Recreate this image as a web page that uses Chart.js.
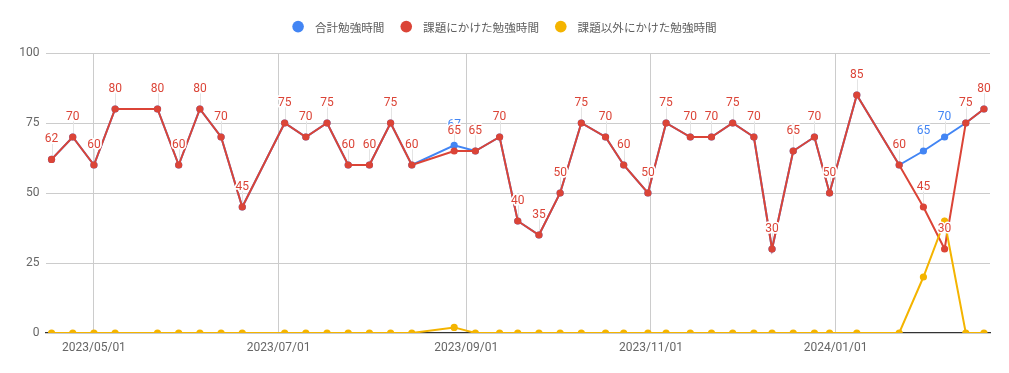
<!DOCTYPE html>
<html><head><meta charset="utf-8">
<script src="https://cdn.jsdelivr.net/npm/chart.js@4.4.0/dist/chart.umd.min.js"></script>
<style>html,body{margin:0;padding:0;background:#fff}#wrap{width:1009px;height:373px}</style>
</head><body><div id="wrap"><canvas id="c" width="1009" height="373"></canvas></div>
<script>
const seriesNames = ['合計勉強時間', '課題にかけた勉強時間', '課題以外にかけた勉強時間'];
const seriesColors = ['#4285f4', '#db4437', '#f4b400'];
const dates = ['2023-04-17','2023-04-24','2023-05-01','2023-05-08','2023-05-22','2023-05-29','2023-06-05','2023-06-12','2023-06-19',
  '2023-07-03','2023-07-10','2023-07-17','2023-07-24','2023-07-31','2023-08-07','2023-08-14','2023-08-28','2023-09-04',
  '2023-09-12','2023-09-18','2023-09-25','2023-10-02','2023-10-09','2023-10-17','2023-10-23','2023-10-31','2023-11-06',
  '2023-11-14','2023-11-21','2023-11-28','2023-12-05','2023-12-11','2023-12-18','2023-12-25','2023-12-30','2024-01-08',
  '2024-01-22','2024-01-30','2024-02-06','2024-02-13','2024-02-19'];
const assignmentHours = [62,70,60,80,80,60,80,70,45,75,70,75,60,60,75,60,65,65,70,40,35,50,75,70,60,50,75,70,70,75,70,30,65,70,50,85,60,45,30,75,80];
const otherHours =      [0,0,0,0,0,0,0,0,0,0,0,0,0,0,0,0,2,0,0,0,0,0,0,0,0,0,0,0,0,0,0,0,0,0,0,0,0,20,40,0,0];
const totalHours =      [62,70,60,80,80,60,80,70,45,75,70,75,60,60,75,60,67,65,70,40,35,50,75,70,60,50,75,70,70,75,70,30,65,70,50,85,60,65,70,75,80];
const xTickLabels = ['2023/05/01', '2023/07/01', '2023/09/01', '2023/11/01', '2024/01/01'];
const xRange = ['2023-04-15', '2024-02-21'];
const yTickStep = 25;
const yMax = 100;

const toT = s => { const p = s.split(/[-\/]/).map(Number); return Date.UTC(p[0], p[1] - 1, p[2]); };
const pad2 = n => String(n).padStart(2, '0');
const fmt = v => { const d = new Date(v); return d.getUTCFullYear() + '/' + pad2(d.getUTCMonth() + 1) + '/' + pad2(d.getUTCDate()); };

const seriesValues = [totalHours, assignmentHours, otherHours];
const labeled = [true, true, false];
const orders = [2, 1, 0];

const datasets = seriesValues.map((vals, i) => ({
  label: seriesNames[i],
  data: dates.map((d, j) => ({x: toT(d), y: vals[j]})),
  borderColor: seriesColors[i],
  backgroundColor: seriesColors[i],
  pointBackgroundColor: seriesColors[i],
  pointBorderWidth: 0,
  pointRadius: 3.6,
  borderWidth: 2,
  tension: 0,
  order: orders[i],
  clip: {left: 10, top: 10, right: 10, bottom: 0}
}));

const labelFont = '12px Roboto';
const pointLabels = {
  id: 'pointLabels',
  beforeDatasetsDraw(chart) {
    const ctx = chart.ctx;
    ctx.save();
    ctx.strokeStyle = '#e4e4e4';
    ctx.lineWidth = 1;
    chart.data.datasets.forEach((ds, di) => {
      if (!labeled[di]) return;
      chart.getDatasetMeta(di).data.forEach(pt => {
        const x = Math.round(pt.x) + 0.5;
        ctx.beginPath(); ctx.moveTo(x, pt.y - 15.5); ctx.lineTo(x, pt.y - 3); ctx.stroke();
      });
    });
    ctx.restore();
  },
  afterDatasetsDraw(chart) {
    const ctx = chart.ctx;
    ctx.save();
    ctx.font = labelFont;
    ctx.textAlign = 'center';
    ctx.textBaseline = 'alphabetic';
    ctx.lineJoin = 'round';
    chart.data.datasets.forEach((ds, di) => {
      if (!labeled[di]) return;
      const vals = seriesValues[di];
      chart.getDatasetMeta(di).data.forEach((pt, j) => {
        const t = String(vals[j]);
        const y = pt.y - 17.3;
        ctx.strokeStyle = '#ffffff'; ctx.lineWidth = 3;
        ctx.strokeText(t, pt.x, y);
        ctx.fillStyle = seriesColors[di];
        ctx.fillText(t, pt.x, y);
      });
    });
    ctx.restore();
  }
};

const customLegend = {
  id: 'customLegend',
  afterDraw(chart) {
    const ctx = chart.ctx;
    ctx.save();
    ctx.font = '11.6px "Noto Sans CJK JP"';
    const r = 5.8, dotGap = 11, itemGap = 16;
    const widths = seriesNames.map(n => ctx.measureText(n).width);
    const total = widths.reduce((a, w) => a + 2 * r + dotGap + w, 0) + itemGap * (seriesNames.length - 1);
    let x = chart.width / 2 - total / 2;
    const cy = 26.6;
    ctx.textBaseline = 'middle';
    ctx.textAlign = 'left';
    seriesNames.forEach((n, i) => {
      ctx.fillStyle = seriesColors[i];
      ctx.beginPath(); ctx.arc(x + r, cy, r, 0, Math.PI * 2); ctx.fill();
      ctx.fillStyle = '#5f5f5f';
      ctx.fillText(n, x + 2 * r + dotGap, cy + 0.5);
      x += 2 * r + dotGap + widths[i] + itemGap;
    });
    ctx.restore();
  }
};

new Chart(document.getElementById('c'), {
  type: 'line',
  data: {datasets},
  plugins: [pointLabels, customLegend],
  options: {
    responsive: false,
    animation: false,
    devicePixelRatio: 1,
    layout: {padding: {left: 0, right: 19, top: 53, bottom: 0}},
    plugins: {legend: {display: false}, tooltip: {enabled: false}, title: {display: false}},
    scales: {
      x: {
        type: 'linear',
        min: toT(xRange[0]),
        max: toT(xRange[1]),
        afterBuildTicks: s => { s.ticks = xTickLabels.map(l => ({value: toT(l)})); },
        afterFit: s => { s.height = 40; },
        ticks: {
          callback: v => fmt(v),
          autoSkip: false, maxRotation: 0, padding: 8,
          color: '#666', font: {family: 'Roboto', size: 12}
        },
        grid: {color: '#cccccc', lineWidth: 1, drawTicks: false},
        border: {display: true, color: '#333333', width: 1.3}
      },
      y: {
        min: 0, max: yMax,
        afterFit: s => { s.width = 45.5; },
        ticks: {
          stepSize: yTickStep, padding: 6,
          color: '#666', font: {family: 'Roboto', size: 12}
        },
        grid: {color: c => c.tick && c.tick.value === 0 ? 'rgba(0,0,0,0)' : '#cccccc', lineWidth: 1, drawTicks: false},
        border: {display: false}
      }
    }
  }
});
</script>
</body></html>
